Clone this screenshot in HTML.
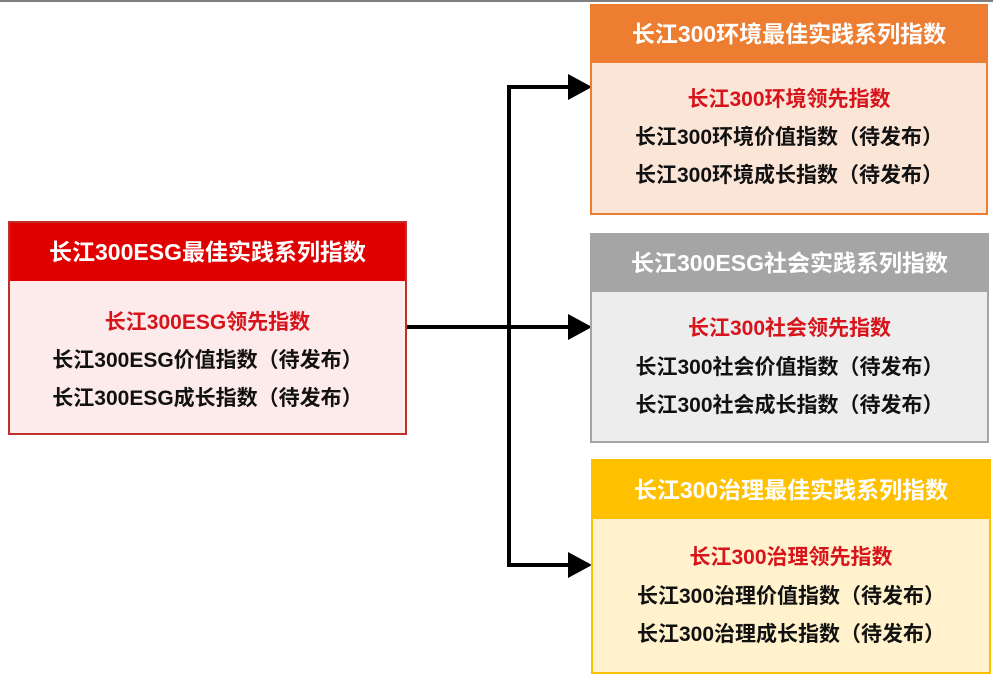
<!DOCTYPE html>
<html><head><meta charset="utf-8"><style>
body{margin:0;width:993px;height:672px;background:#fff;position:relative;overflow:hidden;font-family:"Liberation Sans","Noto Sans CJK SC",sans-serif;font-weight:bold}
.top{position:absolute;left:0;top:0;width:993px;height:2px;background:#7f7f7f}
.box{position:absolute;box-sizing:border-box;border:2px solid}
.hd{position:absolute;left:0;right:0;top:0;color:#fff;font-size:23px;text-align:center;white-space:nowrap}
.t{position:absolute;left:0;right:0;text-align:center;font-size:21px;line-height:24px;color:#111;white-space:nowrap}
.r{color:#d7131b}
</style></head><body>
<div class="top"></div>
<svg width="993" height="672" style="position:absolute;left:0;top:0">
<g stroke="#000" stroke-width="4" fill="none">
<line x1="406" y1="327" x2="572" y2="327"/>
<line x1="509" y1="85" x2="509" y2="567"/>
<line x1="507" y1="87" x2="572" y2="87"/>
<line x1="507" y1="565" x2="572" y2="565"/>
</g>
<g fill="#000">
<polygon points="568,74 592,87 568,100"/>
<polygon points="568,314 592,327 568,340"/>
<polygon points="568,552 592,565 568,578"/>
</g>
</svg>
<div class="box" style="left:8px;top:221px;width:399px;height:214px;border-color:#c0302a;background:#fdeaea">
<div class="hd" style="height:58px;line-height:58px;background:#e00000">长江300ESG最佳实践系列指数</div>
<div class="t r" style="top:88px">长江300ESG领先指数</div>
<div class="t" style="top:126px">长江300ESG价值指数（待发布）</div>
<div class="t" style="top:164px">长江300ESG成长指数（待发布）</div>
</div>
<div class="box" style="left:590px;top:4px;width:398px;height:211px;border-color:#ed7d31;background:#fbe5d6">
<div class="hd" style="height:57px;line-height:57px;background:#ed7d31">长江300环境最佳实践系列指数</div>
<div class="t r" style="top:82px">长江300环境领先指数</div>
<div class="t" style="top:120px">长江300环境价值指数（待发布）</div>
<div class="t" style="top:158px">长江300环境成长指数（待发布）</div>
</div>
<div class="box" style="left:590px;top:233px;width:399px;height:210px;border-color:#a5a5a5;background:#ededed">
<div class="hd" style="height:57px;line-height:57px;background:#a5a5a5">长江300ESG社会实践系列指数</div>
<div class="t r" style="top:82px">长江300社会领先指数</div>
<div class="t" style="top:121px">长江300社会价值指数（待发布）</div>
<div class="t" style="top:159px">长江300社会成长指数（待发布）</div>
</div>
<div class="box" style="left:591px;top:459px;width:400px;height:215px;border-color:#ffc000;background:#fff2cc">
<div class="hd" style="height:58px;line-height:58px;background:#ffc000">长江300治理最佳实践系列指数</div>
<div class="t r" style="top:85px">长江300治理领先指数</div>
<div class="t" style="top:124px">长江300治理价值指数（待发布）</div>
<div class="t" style="top:162px">长江300治理成长指数（待发布）</div>
</div>
</body></html>
